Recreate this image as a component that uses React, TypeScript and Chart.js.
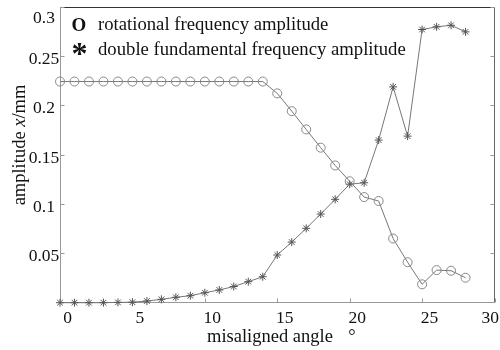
import React, { useEffect, useRef } from 'react';
import { Chart, registerables } from 'chart.js';

Chart.register(...registerables);

const angles = [0, 1, 2, 3, 4, 5, 6, 7, 8, 9, 10, 11, 12, 13, 14, 15, 16, 17, 18, 19, 20, 21, 22, 23, 24, 25, 26, 27, 28];
const rotationalAmplitude = [
  0.224, 0.224, 0.224, 0.224, 0.224, 0.224, 0.224, 0.224, 0.224, 0.224, 0.224, 0.224, 0.224, 0.224, 0.224,
  0.212, 0.194, 0.1755, 0.157, 0.139, 0.123, 0.107, 0.103, 0.065, 0.041, 0.0186, 0.033, 0.0324, 0.0253,
];
const doubleFundamentalAmplitude = [
  0, 0, 0, 0, 0.0003, 0.0005, 0.0017, 0.0034, 0.0055, 0.0071, 0.0101, 0.0129, 0.0164, 0.0213, 0.0263,
  0.0483, 0.0614, 0.0753, 0.0898, 0.1047, 0.12, 0.1215, 0.1647, 0.2186, 0.1687, 0.2767, 0.2794, 0.281, 0.2743,
];
const xTickValues = [0, 5, 10, 15, 20, 25, 30];
const xTickLabels = ['0', '5', '10', '15', '20', '25', '30'];
const yTickValues = [0.05, 0.1, 0.15, 0.2, 0.25, 0.3];
const yTickLabels = ['0.05', '0.1', '0.15', '0.2', '0.25', '0.3'];
const legendMarkers = ['O', '*'];
const legendLabels = ['rotational frequency amplitude', 'double fundamental frequency amplitude'];
const xTitle = 'misaligned angle';
const xTitleUnit = '°';
const yTitleParts = [
  { text: 'amplitude ', italic: false },
  { text: 'x', italic: true },
  { text: '/mm', italic: false },
];

const FONT = '"Liberation Serif", "Times New Roman", serif';

const decorPlugin = {
  id: 'decor',
  beforeDatasetsDraw(chart: any) {
    const { ctx, chartArea: a, scales } = chart;
    const L = Math.round(a.left) + 0.5;
    const R = Math.round(a.right) - 0.5;
    const T = Math.round(a.top) + 0.5;
    const B = Math.round(a.bottom) - 0.5;
    ctx.save();
    ctx.lineWidth = 1;
    // top & right
    ctx.strokeStyle = '#333';
    ctx.beginPath();
    ctx.moveTo(L, T);
    ctx.lineTo(R, T);
    ctx.stroke();
    ctx.strokeStyle = '#666';
    ctx.beginPath();
    ctx.moveTo(R, T);
    ctx.lineTo(R, B);
    ctx.stroke();
    // left & bottom
    ctx.strokeStyle = '#999';
    ctx.beginPath();
    ctx.moveTo(L, T);
    ctx.lineTo(L, B);
    ctx.lineTo(R, B);
    ctx.stroke();
    // inward ticks
    ctx.beginPath();
    xTickValues.forEach((v) => {
      const px = Math.round(scales.x.getPixelForValue(v)) + 0.5;
      ctx.moveTo(px, B);
      ctx.lineTo(px, B - 4);
    });
    yTickValues.forEach((v) => {
      const py = Math.round(scales.y.getPixelForValue(v)) + 0.5;
      ctx.moveTo(L, py);
      ctx.lineTo(L + 4, py);
      ctx.moveTo(R, py);
      ctx.lineTo(R - 4, py);
    });
    ctx.stroke();
    ctx.restore();
  },
  afterDraw(chart: any) {
    const { ctx, chartArea: a, scales, width } = chart;
    ctx.save();
    ctx.fillStyle = '#111';
    // x tick labels
    ctx.font = `17.5px ${FONT}`;
    ctx.textAlign = 'center';
    ctx.textBaseline = 'alphabetic';
    xTickValues.forEach((v, i) => {
      const label = xTickLabels[i];
      const w = ctx.measureText(label).width;
      let x = scales.x.getPixelForValue(v) + 7.5;
      if (x + w / 2 > width - 1) x = width - 1 - w / 2;
      ctx.fillText(label, x, a.bottom + 20.6);
    });
    // y tick labels
    yTickValues.forEach((v, i) => {
      const py = scales.y.getPixelForValue(v);
      const y = Math.max(py + 8, a.top + 16);
      ctx.fillText(yTickLabels[i], a.left - 16, y);
    });
    // x title
    ctx.font = `18.5px ${FONT}`;
    ctx.textAlign = 'left';
    ctx.fillText(xTitle, a.left + 147, 342);
    ctx.textAlign = 'center';
    ctx.fillText(xTitleUnit, a.left + 292, 342);
    // y title (rotated)
    ctx.save();
    ctx.translate(25, 145);
    ctx.rotate(-Math.PI / 2);
    ctx.textAlign = 'left';
    let total = 0;
    yTitleParts.forEach((p) => {
      ctx.font = `${p.italic ? 'italic ' : ''}18.5px ${FONT}`;
      total += ctx.measureText(p.text).width;
    });
    let cx = -total / 2;
    yTitleParts.forEach((p) => {
      ctx.font = `${p.italic ? 'italic ' : ''}18.5px ${FONT}`;
      ctx.fillText(p.text, cx, 0);
      cx += ctx.measureText(p.text).width;
    });
    ctx.restore();
    // legend
    ctx.textAlign = 'center';
    ctx.font = `bold 19px ${FONT}`;
    ctx.fillText(legendMarkers[0], 79, 31);
    ctx.font = `bold 32px ${FONT}`;
    ctx.fillText(legendMarkers[1], 79.5, 64);
    ctx.textAlign = 'left';
    ctx.font = `18.7px ${FONT}`;
    ctx.fillText(legendLabels[0], 98, 29.5);
    ctx.fillText(legendLabels[1], 98, 55);
    ctx.restore();
  },
};

export default function App() {
  const canvasRef = useRef<HTMLCanvasElement | null>(null);

  useEffect(() => {
    if (!canvasRef.current) return;
    const chart = new Chart(canvasRef.current, {
      type: 'line',
      data: {
        datasets: [
          {
            label: legendLabels[0],
            data: angles.map((a, i) => ({ x: a, y: rotationalAmplitude[i] })),
            borderColor: '#777',
            borderWidth: 1,
            pointStyle: 'circle',
            pointRadius: 4.5,
            pointBorderColor: '#888',
            pointBackgroundColor: 'rgba(0,0,0,0)',
            pointBorderWidth: 1,
            clip: false,
          },
          {
            label: legendLabels[1],
            data: angles.map((a, i) => ({ x: a, y: doubleFundamentalAmplitude[i] })),
            borderColor: '#777',
            borderWidth: 1,
            pointStyle: 'star',
            pointRadius: 4,
            pointBorderColor: '#555',
            pointBackgroundColor: '#555',
            pointBorderWidth: 1,
            clip: false,
          },
        ],
      },
      options: {
        animation: false,
        responsive: false,
        devicePixelRatio: 1,
        layout: { padding: { left: 60, right: 0.5, top: 6.5, bottom: 47.3 } },
        plugins: { legend: { display: false }, tooltip: { enabled: false } },
        scales: {
          x: { type: 'linear', min: 0, max: 30, display: false },
          y: { type: 'linear', min: 0, max: 0.3, display: false },
        },
      },
      plugins: [decorPlugin],
    });
    return () => chart.destroy();
  }, []);

  return (
    <div style={{ position: 'absolute', left: 0, top: 0, width: 500, height: 350, background: '#fff' }}>
      <canvas ref={canvasRef} width={500} height={350} style={{ display: 'block' }} />
    </div>
  );
}
